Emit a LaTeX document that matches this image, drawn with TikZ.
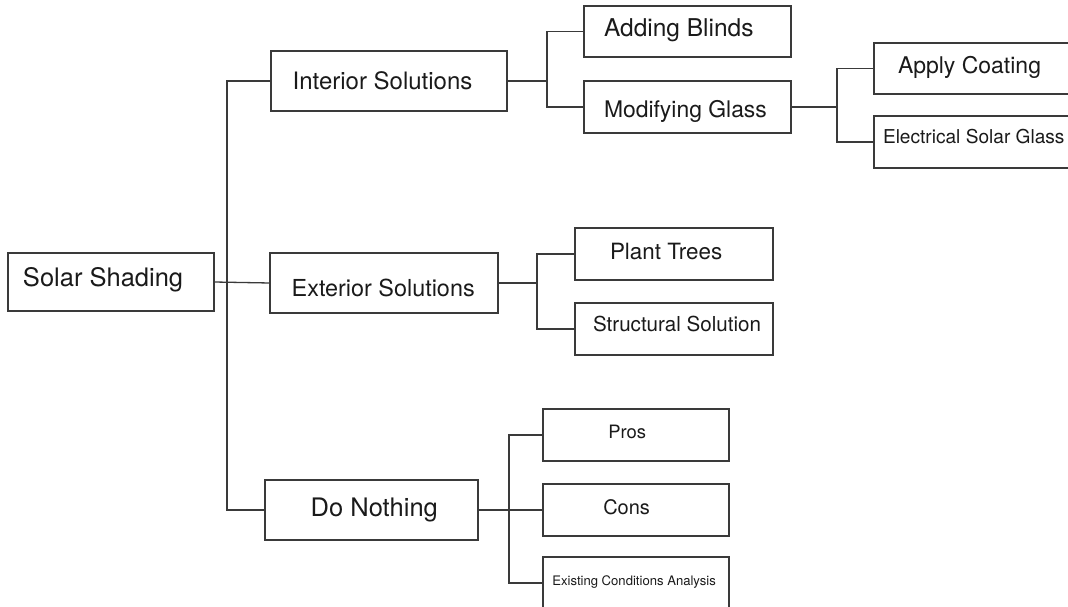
\documentclass[tikz,border=0pt]{standalone}
\usepackage{fontspec}
\setmainfont{TeX Gyre Heros}
\definecolor{ln}{HTML}{3A3A3A}
\definecolor{tx}{HTML}{1A1A1A}
\newcommand\mkbox[5]{\node[box, minimum width={(#4-#2)*1pt}, minimum height={(#5-#3)*1pt}] (#1) at ({(#2+#4)/2},{(#3+#5)/2}) {};}
\newcommand\mklbl[5]{\node[lbl, font=\fontsize{#4}{#4}\selectfont] (#1) at (#2,#3) {#5};}
\begin{document}
\begin{tikzpicture}[x=1pt,y=-1pt,
  box/.style={draw=ln, line width=1.3pt, rectangle, inner sep=0pt, outer sep=0pt},
  lbl/.style={anchor=base west, inner sep=0pt, outer sep=0pt, text=tx},
  conn/.style={draw=ln, line width=1.3pt}]
\useasboundingbox (0,0) rectangle (1068,607);
\clip (0,0) rectangle (1068,607);
% boxes
\mkbox{solar}{8}{253}{214}{311}
\mkbox{interior}{271}{51}{507}{111}
\mkbox{exterior}{270}{253}{498}{313}
\mkbox{donothing}{265}{480}{478}{540}
\mkbox{blinds}{584}{6}{791}{57}
\mkbox{glass}{584}{81}{791}{133}
\mkbox{coating}{874}{43}{1078}{94}
\mkbox{electrical}{874}{116}{1078}{168}
\mkbox{plant}{575}{228}{773}{280}
\mkbox{structural}{575}{303}{773}{355}
\mkbox{pros}{543}{409}{729}{461}
\mkbox{cons}{543}{484}{729}{536}
\mkbox{existing}{543}{557}{729}{609}
% labels
\mklbl{solarT}{23}{286.7}{25.5}{Solar Shading}
\mklbl{interiorT}{292.7}{89.3}{24}{Interior Solutions}
\mklbl{exteriorT}{291.7}{296.7}{23.4}{Exterior Solutions}
\mklbl{donothingT}{310.7}{516}{25.5}{Do Nothing}
\mklbl{blindsT}{604}{36.7}{24.5}{Adding Blinds}
\mklbl{glassT}{604}{117.3}{22.9}{Modifying Glass}
\mklbl{coatingT}{898}{73.3}{23}{Apply Coating}
\mklbl{electricalT}{883}{143.3}{19.1}{Electrical Solar Glass}
\mklbl{plantT}{610}{259.3}{22.4}{Plant Trees}
\mklbl{structuralT}{593}{331.7}{20.6}{Structural Solution}
\mklbl{prosT}{608.3}{438.3}{18.4}{Pros}
\mklbl{consT}{603.3}{514}{20}{Cons}
\mklbl{existingT}{552.3}{585.7}{13.1}{Existing Conditions Analysis}
% junction x positions
\coordinate (t0) at (227,0);
\coordinate (t1) at (547,0);
\coordinate (t2) at (837,0);
\coordinate (t3) at (537,0);
\coordinate (t4) at (509,0);
% connectors
\draw[conn] (interior.west) -- (interior.west -| t0) -- (donothing.west -| t0) -- (donothing.west);
\draw[conn] (solar.east) -- (exterior.west);
\draw[conn] (interior.east) -- (interior.east -| t1);
\draw[conn] (blinds.west) -- (blinds.west -| t1) -- (glass.west -| t1) -- (glass.west);
\draw[conn] (glass.east) -- (glass.east -| t2);
\draw[conn] (coating.west) -- (coating.west -| t2) -- (electrical.west -| t2) -- (electrical.west);
\draw[conn] (exterior.east) -- (exterior.east -| t3);
\draw[conn] (plant.west) -- (plant.west -| t3) -- (structural.west -| t3) -- (structural.west);
\draw[conn] (donothing.east) -- (cons.west);
\draw[conn] (pros.west) -- (pros.west -| t4) -- (existing.west -| t4) -- (existing.west);
\end{tikzpicture}
\end{document}
